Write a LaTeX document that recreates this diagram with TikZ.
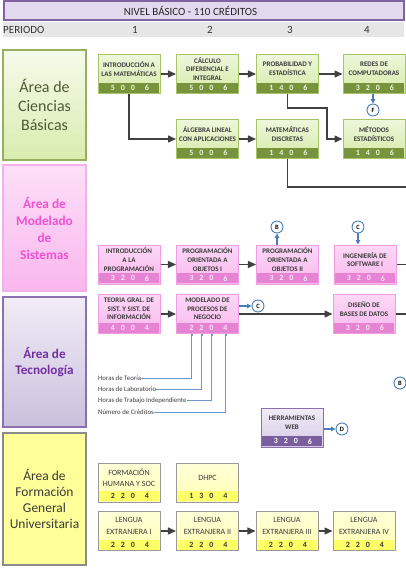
\documentclass[tikz,border=0pt]{standalone}
\usepackage{fontspec}
\setmainfont{Carlito}
\usetikzlibrary{shapes.misc,arrows.meta}

\definecolor{linegray}{HTML}{404040}
\definecolor{linkblue}{HTML}{4A7EBB}
\definecolor{legblue}{HTML}{7096CC}
\definecolor{titlegray}{HTML}{3A3A3A}
\definecolor{headline}{HTML}{8064A2}
\definecolor{headfill}{HTML}{E3D9EF}
\definecolor{periodgray}{HTML}{E6E6E6}
% ciencias basicas
\definecolor{cbtop}{HTML}{EEF7DD}
\definecolor{cbbot}{HTML}{D5EAA6}
\definecolor{cbline}{HTML}{A7C46A}
\definecolor{cbband}{HTML}{77933C}
\definecolor{cbdigit}{HTML}{EEF5DD}
\definecolor{cbtext}{HTML}{4E5A34}
% modelado de sistemas
\definecolor{mstop}{HTML}{FCD8F6}
\definecolor{msbot}{HTML}{F9B7EE}
\definecolor{msline}{HTML}{F09DE3}
\definecolor{msband}{HTML}{E683D3}
\definecolor{msdigit}{HTML}{FDE6F9}
\definecolor{mstext}{HTML}{F050D3}
% tecnologia
\definecolor{tectop}{HTML}{F1ECF7}
\definecolor{tecbot}{HTML}{D6CAE8}
\definecolor{tecline}{HTML}{8A70AC}
\definecolor{tecband}{HTML}{7B5E9E}
\definecolor{tectext}{HTML}{7030A0}
% formacion general
\definecolor{fgtop}{HTML}{FFFFD8}
\definecolor{fgbot}{HTML}{FFFFB4}
\definecolor{fgline}{HTML}{9A9A9A}
\definecolor{fgband}{HTML}{FFFF66}
\definecolor{fgarea}{HTML}{FFFF99}

\tikzset{
  conn/.style={draw=linegray, line width=1.3pt, -{Triangle[length=8pt,width=7pt]}},
  wire/.style={draw=linegray, line width=1.3pt},
  link/.style={draw=linkblue, line width=1.2pt, -{Triangle[length=4.5pt,width=4.5pt]}},
  leyenda/.style={draw=legblue, line width=0.6pt, -{Square[length=1.6pt,width=1.6pt]}},
  ref/.style={circle, draw=linkblue, fill=white, line width=0.9pt, minimum size=12pt,
    inner sep=0pt, font=\fontsize{6.5}{6.5}\selectfont\bfseries},
  box/.style={chamfered rectangle, chamfered rectangle corners={north west,north east},
    chamfered rectangle xsep=5pt, chamfered rectangle ysep=5pt,
    minimum width=62pt, minimum height=39pt, inner sep=0pt, line width=1pt},
  band/.style={minimum width=60.5pt, minimum height=10pt, inner sep=0pt, anchor=south},
  title/.style={align=center, inner sep=0pt, text=titlegray,
    font=\fontsize{7}{8.6}\selectfont\bfseries},
  digit/.style={inner sep=0pt, font=\fontsize{8}{8}\selectfont\bfseries},
  area/.style={minimum width=83pt, inner sep=0pt, align=center, line width=2pt},
  cb box/.style={box, draw=cbline, top color=cbtop, bottom color=cbbot},
  cb band/.style={band, fill=cbband},
  cb title/.style={title},
  cb digit/.style={digit, text=cbdigit},
  ms box/.style={box, draw=msline, top color=mstop, bottom color=msbot},
  ms band/.style={band, fill=msband},
  ms title/.style={title},
  ms digit/.style={digit, text=msdigit},
  tec box/.style={box, draw=tecline, top color=tectop, bottom color=tecbot},
  tec band/.style={band, fill=tecband},
  tec title/.style={title},
  tec digit/.style={digit, text=white},
  fg box/.style={box, draw=fgline, top color=fgtop, bottom color=fgbot},
  fg band/.style={band, fill=fgband},
  fg title/.style={title, font=\fontsize{8}{11.5}\selectfont},
  fg digit/.style={digit, text=titlegray},
}

% materia: name, area, x, y, title, teoria, laboratorio, independiente, creditos
\newcommand{\materia}[9]{%
  \node[#2 box] (#1) at (#3,#4) {};
  \node[#2 band] (#1-b) at ([yshift=1pt]#1.south) {};
  \node[#2 title] (#1-t) at ([yshift=5pt]#1.center) {#5};
  \node[#2 digit] (#1-1) at ([xshift=-16pt]#1-b.center) {#6};
  \node[#2 digit] (#1-2) at ([xshift=-6pt]#1-b.center) {#7};
  \node[#2 digit] (#1-3) at ([xshift=4pt]#1-b.center) {#8};
  \node[#2 digit] (#1-4) at ([xshift=18pt]#1-b.center) {#9};
}

\begin{document}
\begin{tikzpicture}[x=1pt,y=-1pt]
\useasboundingbox (0,0) rectangle (406,569);
\coordinate (edge) at (406,0);

% header
  \node[draw=headline, line width=2pt, fill=headfill, minimum width=400pt,
    minimum height=19pt, inner sep=0pt] (nivel) at (203.5,11) {};
  \node[font=\fontsize{11}{11}\selectfont, text=black!85] (nivel-t) at (190.5,11)
    {NIVEL BÁSICO - 110 CRÉDITOS};
  \fill[periodgray] (3,22.5) rectangle (404,37);
  \node[anchor=west, inner sep=0pt, font=\fontsize{11}{11}\selectfont, text=black!80]
    (periodo) at (3,29.5) {PERIODO};
  \foreach \p/\x in {1/135,2/210,3/290,4/367}
    \node[font=\fontsize{11}{11}\selectfont, text=black!80] (p\p) at (\x,29.5) {\p};

% areas
  \node[area, draw=cbline!90!black, top color=cbtop!60!white, bottom color=cbbot!90!white,
    minimum height=110pt, text=cbtext, font=\fontsize{16}{19}\selectfont]
    (acb) at (44.5,105) {Área de\\Ciencias\\Básicas};
  \node[area, draw=msline!80!white, top color=mstop!80!white, bottom color=msbot, line width=1.5pt,
    minimum height=126pt, text=mstext, font=\fontsize{13.3}{17}\selectfont\bfseries]
    (ams) at (44.5,228) {Área de\\Modelado\\de\\Sistemas};
  \node[area, draw=tecline, top color=tectop, bottom color=tecbot!95!black,
    minimum height=130pt, text=tectext, font=\fontsize{13.2}{15.5}\selectfont\bfseries]
    (atec) at (44.5,362) {Área de\\Tecnología};
  \node[area, draw=fgline!90!black, fill=fgarea,
    minimum height=132pt, text=titlegray, font=\fontsize{13.5}{16}\selectfont]
    (afg) at (44.5,499) {Área de\\Formación\\General\\Universitaria};

% ciencias basicas
  \materia{intmat}{cb}{129}{74}{INTRODUCCIÓN A\\LAS MATEMÁTICAS}{5}{0}{0}{6}
  \materia{calc}{cb}{207.5}{74}{CÁLCULO\\DIFERENCIAL E\\INTEGRAL}{5}{0}{0}{6}
  \materia{prob}{cb}{287.5}{74}{PROBABILIDAD Y\\ESTADÍSTICA}{1}{4}{0}{6}
  \materia{redes}{cb}{374}{74}{REDES DE\\COMPUTADORAS}{3}{2}{0}{6}
  \materia{alg}{cb}{207.5}{139}{ÁLGEBRA LINEAL\\CON APLICACIONES}{5}{0}{0}{6}
  \materia{mdisc}{cb}{287.5}{139}{MATEMÁTICAS\\DISCRETAS}{1}{4}{0}{6}
  \materia{metest}{cb}{374}{139}{MÉTODOS\\ESTADÍSTICOS}{1}{4}{0}{6}

  \draw[conn] (intmat) -- (calc);
  \draw[conn] (calc) -- (prob);
  \draw[conn] (prob) -- (redes);
  \draw[wire] (redes.east) -- (redes.east -| edge);
  \draw[conn] (intmat.south) |- (alg.west);
  \draw[conn] (alg) -- (mdisc);
  \coordinate (prob-bend) at (327,108);
  \draw[conn] (prob.south) |- (prob-bend) |- (metest.west);
  \coordinate (mdisc-out) at (406,187);
  \draw[wire] (mdisc.south) |- (mdisc-out);
  \node[ref] (f) at (373,110) {F};
  \draw[link] (redes.south -| f) -- (f);

% modelado de sistemas
  \materia{introprog}{ms}{129}{264.5}{INTRODUCCIÓN\\A LA\\PROGRAMACIÓN}{3}{2}{0}{6}
  \materia{poo1}{ms}{207.5}{264.5}{PROGRAMACIÓN\\ORIENTADA A\\OBJETOS I}{3}{2}{0}{6}
  \materia{poo2}{ms}{287.5}{264.5}{PROGRAMACIÓN\\ORIENTADA A\\OBJETOS II}{3}{2}{0}{6}
  \materia{ingsw}{ms}{365}{264.5}{INGENIERÍA DE\\SOFTWARE I}{3}{2}{0}{6}

  \draw[conn] (introprog) -- (poo1);
  \draw[conn] (poo1) -- (poo2);
  \draw[wire] (ingsw.east) -- (ingsw.east -| edge);
  \node[ref] (b1) at (277,227) {B};
  \draw[link] (b1 |- poo2.north) -- (b1);
  \node[ref] (c1) at (358,227) {C};
  \draw[link] (c1) -- (c1 |- ingsw.north);

% tecnologia
  \materia{teoria}{ms}{129}{314}{TEORIA GRAL. DE\\SIST. Y SIST. DE\\INFORMACIÓN}{4}{0}{0}{4}
  \materia{modproc}{ms}{207.5}{314}{MODELADO DE\\PROCESOS DE\\NEGOCIO}{2}{2}{0}{4}
  \materia{diseno}{ms}{364}{314}{DISEÑO DE\\BASES DE DATOS}{3}{2}{0}{6}

  \draw[conn] (teoria) -- (modproc);
  \draw[conn] (modproc) -- (diseno);
  \draw[wire] (diseno.east) -- (diseno.east -| edge);
  \node[ref] (c2) at (258,306) {C};
  \draw[link] (modproc.east |- c2) -- (c2);
  \node[ref] (b2) at (400,383) {B};

% leyenda
  \foreach \n/\y/\txt in {1/378/Horas de Teoría, 2/389/Horas de Laboratorio,
      3/400.5/Horas de Trabajo Independiente, 4/412/Número de Créditos} {
    \node[anchor=west, inner sep=0pt, text=titlegray, font=\fontsize{6.8}{6.8}\selectfont]
      (ley\n) at (98,\y) {\txt};
    \draw[leyenda] (ley\n.east) -| (modproc-\n |- modproc.south);
  }

  \materia{herr}{tec}{292}{427.5}{HERRAMIENTAS\\WEB}{3}{2}{0}{6}
  \node[ref] (d) at (342,429) {D};
  \draw[link] (herr.east |- d) -- (d);

% formacion general
  \materia{fhs}{fg}{129}{482.5}{FORMACIÓN\\HUMANA Y SOC}{2}{2}{0}{4}
  \materia{dhpc}{fg}{207.5}{482.5}{DHPC}{1}{3}{0}{4}
  \materia{len1}{fg}{129}{531}{LENGUA\\EXTRANJERA I}{2}{2}{0}{4}
  \materia{len2}{fg}{207.5}{531}{LENGUA\\EXTRANJERA II}{2}{2}{0}{4}
  \materia{len3}{fg}{287}{531}{LENGUA\\EXTRANJERA III}{2}{2}{0}{4}
  \materia{len4}{fg}{364}{531}{LENGUA\\EXTRANJERA IV}{2}{2}{0}{4}

  \draw[conn] (len1) -- (len2);
  \draw[conn] (len2) -- (len3);
  \draw[conn] (len3) -- (len4);
\end{tikzpicture}
\end{document}
